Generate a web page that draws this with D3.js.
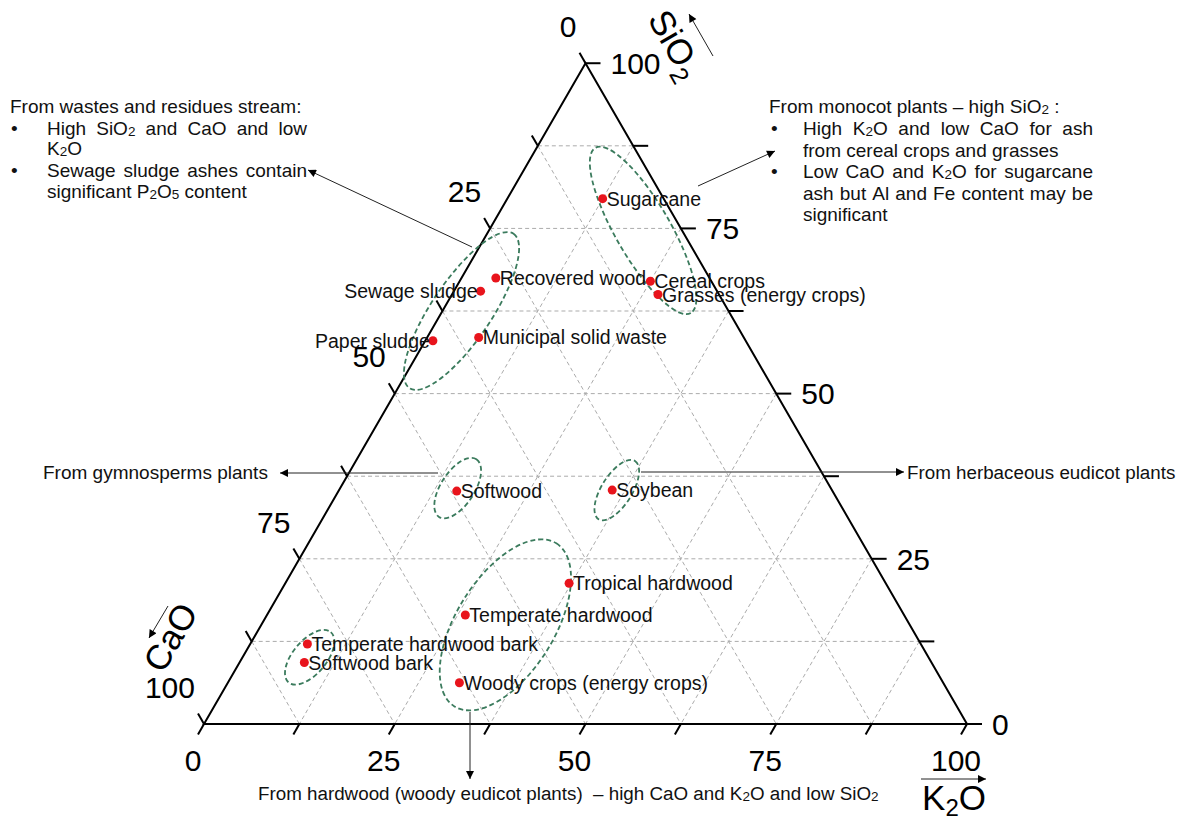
<!DOCTYPE html>
<html>
<head>
<meta charset="utf-8">
<script src="https://cdn.jsdelivr.net/npm/d3@7"></script>
<style>
  html, body { margin: 0; padding: 0; background: #fff; }
  svg { display: block; font-family: "Liberation Sans", Arial, sans-serif; }
</style>
</head>
<body>
<svg id="chart" width="1182" height="821"></svg>
<script>
// Ash compositions, wt % normalised so that SiO2 + CaO + K2O = 100
const samples = [
  "Sugarcane", "Cereal crops", "Grasses (energy crops)", "Recovered wood",
  "Sewage sludge", "Paper sludge", "Municipal solid waste", "Softwood",
  "Soybean", "Tropical hardwood", "Temperate hardwood",
  "Temperate hardwood bark", "Softwood bark", "Woody crops (energy crops)"
];
const sio2 = [79.5, 67, 65, 67.5, 65.5, 58, 58.5, 35.25, 35.4, 21.3, 16.5, 12.1, 9.3, 6.25];
const cao  = [8, 8, 8, 28, 31, 41, 34.75, 49.25, 28.8, 41.5, 57.5, 80.4, 82.2, 63.4];
const k2o  = [12.5, 25, 27, 4.5, 3.5, 1, 6.75, 15.5, 35.8, 37.2, 26, 7.5, 8.5, 30.35];

// Axis ticks and grid
const tickLabels = [0, 25, 50, 75, 100];
const tickSteps  = [0, 12.5, 25, 37.5, 50, 62.5, 75, 87.5, 100];
const gridSteps  = [12.5, 25, 37.5, 50, 62.5, 75, 87.5];

// Biomass groups outlined by ellipses: centre (SiO2, CaO, K2O) and semi-axes in composition %
const groupNames  = ["wastes", "monocot", "gymnosperm", "herbaceous", "hardwood", "bark"];
const groupCentre = [[62.5, 35, 2.5], [74.7, 5.1, 20.2], [35.7, 48.9, 15.4],
                     [35.4, 28.2, 36.4], [15, 53, 32], [10.1, 81.1, 8.8]];
const groupAxes   = [[12.2, 3.9], [12.5, 3.6], [4.5, 2.2], [4.5, 2.0], [12.6, 6.4], [4.3, 2.2]];
const groupTilt   = [-56, 60, -57, -58, -58, -50];

const svg = d3.select("#chart");
const FONT = "Liberation Sans, Arial, sans-serif";

// Ternary geometry: CaO at bottom-left, K2O at bottom-right, SiO2 at apex
const origin = { x: 204, y: 724 };
const side = d3.scaleLinear().domain([0, 100]).range([0, 763]);
const H = Math.sqrt(3) / 2;
function project(s, c, k) {
  return [origin.x + side(k) + side(s) / 2, origin.y - side(s) * H];
}

// Arrow marker
const defs = svg.append("defs");
defs.append("marker")
  .attr("id", "head")
  .attr("viewBox", "0 0 10 10")
  .attr("refX", 10).attr("refY", 5)
  .attr("markerWidth", 10).attr("markerHeight", 8)
  .attr("markerUnits", "userSpaceOnUse")
  .attr("orient", "auto")
  .append("path").attr("d", "M0,0 L10,5 L0,10 Z").attr("fill", "#000");

// Grid
const grid = svg.append("g")
  .attr("stroke", "#ababab").attr("stroke-width", 1)
  .attr("stroke-dasharray", "4,3").attr("fill", "none");
const gridSegs = [];
gridSteps.forEach(v => {
  gridSegs.push([project(v, 100 - v, 0), project(v, 0, 100 - v)]);   // constant SiO2
  gridSegs.push([project(100 - v, v, 0), project(0, v, 100 - v)]);   // constant CaO
  gridSegs.push([project(100 - v, 0, v), project(0, 100 - v, v)]);   // constant K2O
});
grid.selectAll("line").data(gridSegs).join("line")
  .attr("x1", d => d[0][0]).attr("y1", d => d[0][1])
  .attr("x2", d => d[1][0]).attr("y2", d => d[1][1]);

// Frame
const A = project(0, 100, 0), B = project(0, 0, 100), C = project(100, 0, 0);
svg.append("path")
  .attr("d", d3.line()([A, B, C]) + "Z")
  .attr("fill", "none").attr("stroke", "#000").attr("stroke-width", 2)
  .attr("stroke-linejoin", "miter");

// Ticks
const ticks = svg.append("g").attr("stroke", "#000").attr("stroke-width", 2);
const tl = 12;
tickSteps.forEach(v => {
  const pc = project(100 - v, v, 0);       // CaO on left edge
  ticks.append("line").attr("x1", pc[0]).attr("y1", pc[1])
    .attr("x2", pc[0] - tl * 0.5).attr("y2", pc[1] - tl * H);
  const pk = project(0, 100 - v, v);       // K2O on base
  ticks.append("line").attr("x1", pk[0]).attr("y1", pk[1])
    .attr("x2", pk[0] - tl * 0.5).attr("y2", pk[1] + tl * H);
  const ps = project(v, 0, 100 - v);       // SiO2 on right edge
  ticks.append("line").attr("x1", ps[0]).attr("y1", ps[1])
    .attr("x2", ps[0] + 15).attr("y2", ps[1]);
});

// Tick labels
const tickFont = 30;
const lab = svg.append("g").attr("font-family", FONT).attr("font-size", tickFont).attr("fill", "#000");
tickLabels.forEach(v => {
  const pc = project(100 - v, v, 0);
  lab.append("text").attr("x", pc[0] - 9).attr("y", pc[1] - 37)
    .attr("dy", "0.36em").attr("text-anchor", "end").text(v);
  const pk = project(0, 100 - v, v);
  lab.append("text").attr("x", pk[0] - 11).attr("y", pk[1] + 36)
    .attr("dy", "0.36em").attr("text-anchor", "middle").text(v);
  const ps = project(v, 0, 100 - v);
  lab.append("text").attr("x", ps[0] + 25).attr("y", ps[1])
    .attr("dy", "0.36em").attr("text-anchor", "start").text(v);
});

// Rich text: "_d" marks a subscript digit
function rich(textSel, str, subSize, subDy) {
  const parts = str.split(/(_\d)/).filter(p => p.length);
  let shifted = false;
  parts.forEach(p => {
    if (p[0] === "_") {
      textSel.append("tspan").attr("font-size", subSize).attr("dy", subDy).text(p.slice(1));
      shifted = true;
    } else {
      const t = textSel.append("tspan").text(p);
      if (shifted) { t.attr("dy", -subDy); shifted = false; }
    }
  });
  return textSel;
}

// Axis titles
const titleFont = 35;
const tS = svg.append("text").attr("font-family", FONT).attr("font-size", titleFont)
  .attr("transform", "translate(676,44) rotate(60)").attr("text-anchor", "middle").attr("dy", "0.36em");
rich(tS, "SiO_2", 25, 9);
const tC = svg.append("text").attr("font-family", FONT).attr("font-size", titleFont)
  .attr("transform", "translate(170,637) rotate(-60)").attr("text-anchor", "middle").attr("dy", "0.36em");
rich(tC, "CaO", 25, 9);
const tK = svg.append("text").attr("font-family", FONT).attr("font-size", titleFont)
  .attr("x", 954).attr("y", 810).attr("text-anchor", "middle");
rich(tK, "K_2O", 24, 6);

// Group outlines
const groups = svg.append("g").attr("fill", "none").attr("stroke", "#3b7b5d")
  .attr("stroke-width", 1.8).attr("stroke-dasharray", "5,3");
groups.selectAll("ellipse").data(groupNames.map((n, i) => i)).join("ellipse")
  .attr("transform", i => {
    const p = project(...groupCentre[i]);
    return `translate(${p[0]},${p[1]}) rotate(${groupTilt[i]})`;
  })
  .attr("rx", i => side(groupAxes[i][0]))
  .attr("ry", i => side(groupAxes[i][1]));

// Pointer arrows
const arrows = [
  [[472, 247], [308, 170]],
  [[698, 186], [775, 151]],
  [[438, 473], [280, 473]],
  [[641, 472], [904, 472]],
  [[470, 712], [470, 779]],
  [[713, 56], [689, 14]],
  [[168, 606], [149, 638]],
  [[921, 779], [986, 779]]
];
svg.append("g").selectAll("line").data(arrows).join("line")
  .attr("x1", d => d[0][0]).attr("y1", d => d[0][1])
  .attr("x2", d => d[1][0]).attr("y2", d => d[1][1])
  .attr("stroke", "#222").attr("stroke-width", 1)
  .attr("marker-end", "url(#head)");

// Sample points and labels
const labelLeft = new Set(["Sewage sludge", "Paper sludge"]);
const pts = samples.map((name, i) => ({ name, p: project(sio2[i], cao[i], k2o[i]) }));
const ptG = svg.append("g");
ptG.selectAll("circle").data(pts).join("circle")
  .attr("cx", d => d.p[0]).attr("cy", d => d.p[1]).attr("r", 4.5)
  .attr("fill", "#e8141c");
ptG.selectAll("text").data(pts).join("text")
  .attr("font-family", FONT).attr("font-size", 19.5).attr("fill", "#111")
  .attr("x", d => labelLeft.has(d.name) ? d.p[0] - 3 : d.p[0] + 4)
  .attr("y", d => d.p[1]).attr("dy", "0.36em")
  .attr("text-anchor", d => labelLeft.has(d.name) ? "end" : "start")
  .text(d => d.name);

// Annotation text
const noteFont = 19;
const notes = svg.append("g").attr("font-family", FONT).attr("font-size", noteFont).attr("fill", "#111");
function line(x, y, str, size) {
  const t = notes.append("text").attr("x", x).attr("y", y);
  if (size) t.attr("font-size", size);
  return rich(t, str, 13.5, 1);
}
function justified(x0, x1, y, str) {
  const words = str.split(" ");
  const nodes = words.map(w => rich(notes.append("text").attr("y", y), w, 13.5, 1));
  const widths = nodes.map(n => n.node().getComputedTextLength());
  const gap = (x1 - x0 - d3.sum(widths)) / (words.length - 1);
  let x = x0;
  nodes.forEach((n, i) => { n.attr("x", x); x += widths[i] + gap; });
}
function bullet(x, y) { notes.append("text").attr("x", x).attr("y", y).text("•"); }

line(10, 113, "From wastes and residues stream:");
bullet(11, 135); justified(47, 307, 135, "High SiO_2 and CaO and low");
line(47, 155, "K_2O");
bullet(11, 177); justified(47, 307, 177, "Sewage sludge ashes contain");
line(47, 198, "significant P_2O_5 content");

line(769, 113, "From monocot plants – high SiO_2 :");
bullet(771, 135); justified(803, 1093, 135, "High K_2O and low CaO for ash");
line(803, 157, "from cereal crops and grasses");
bullet(771, 178); justified(803, 1093, 178, "Low CaO and K_2O for sugarcane");
justified(803, 1093, 200, "ash but Al and Fe content may be");
line(803, 221, "significant");

line(43, 479, "From gymnosperms plants");
line(907, 479, "From herbaceous eudicot plants", 18.8);
line(258, 800, "From hardwood (woody eudicot plants)  – high CaO and K_2O and low SiO_2", 18.8)
  .attr("xml:space", "preserve");
</script>
</body>
</html>
